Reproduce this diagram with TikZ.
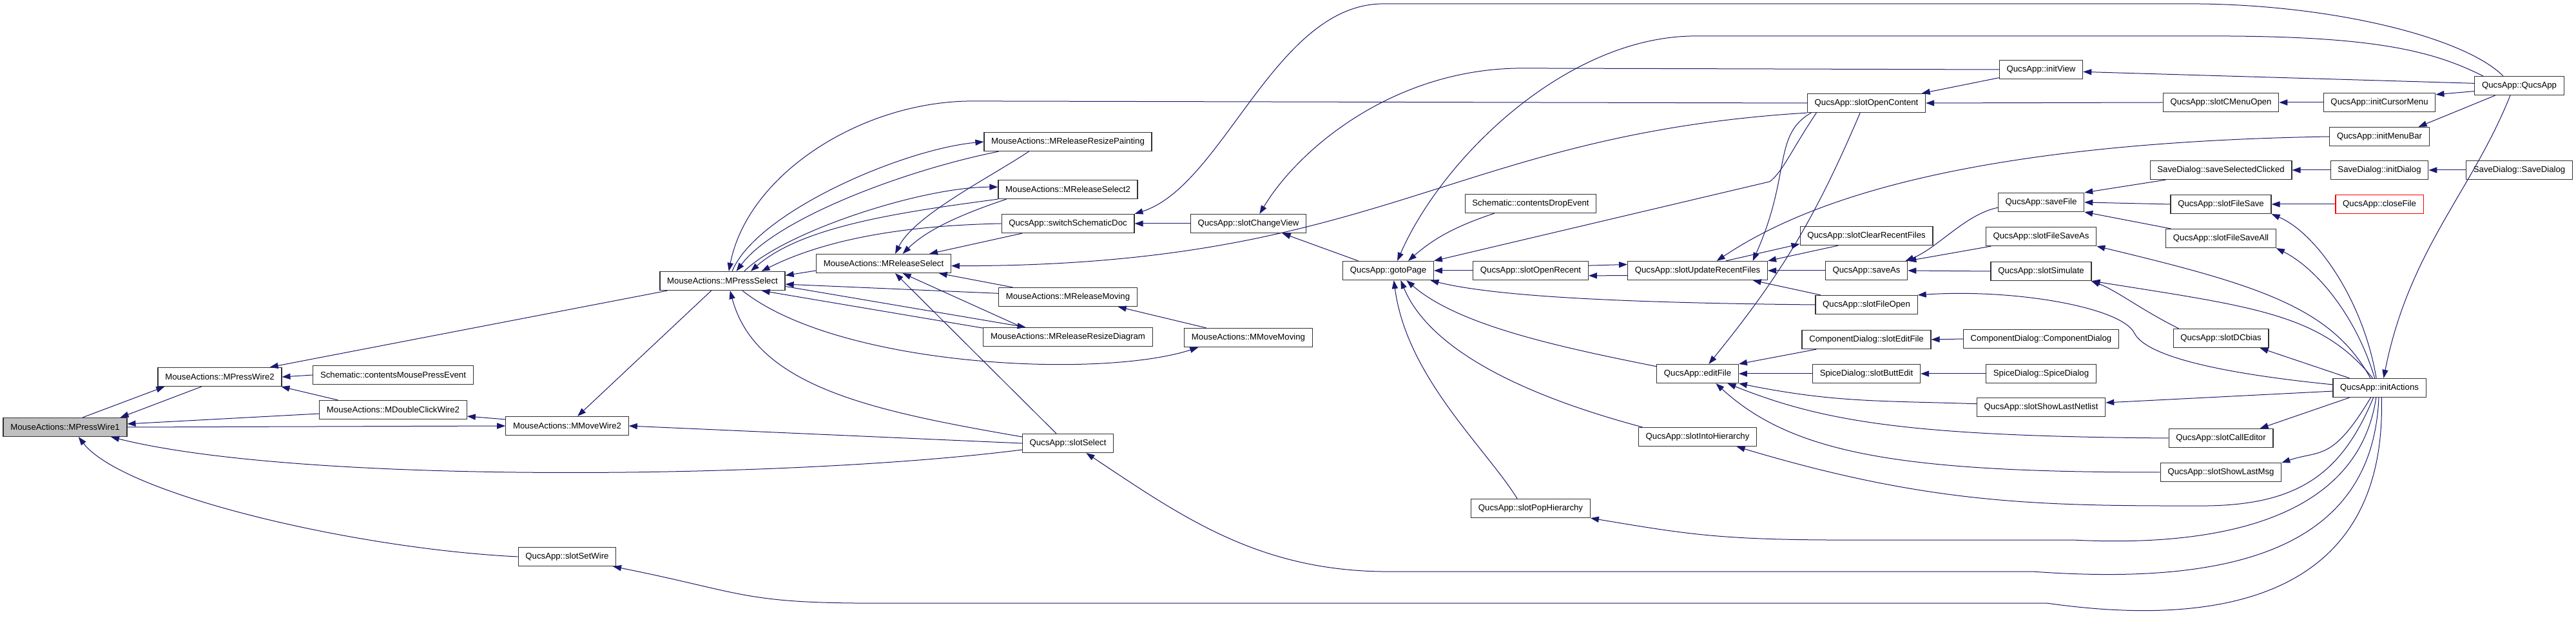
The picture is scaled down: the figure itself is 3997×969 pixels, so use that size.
\documentclass[tikz,border=0pt]{standalone}
\usepackage{fontspec}
\setmainfont{Liberation Sans}
\usetikzlibrary{arrows.meta}
\definecolor{cEdge}{RGB}{25,25,112}
\definecolor{cFrame}{RGB}{50,50,50}
\definecolor{cRoot}{RGB}{191,191,191}
\definecolor{cRed}{RGB}{255,0,0}
\tikzset{
	fbox/.style={draw=cFrame, line width=0.6pt, fill=white, inner xsep=5.6pt,
		inner ysep=0pt, minimum height=14.5pt,
		font=\fontsize{6.6pt}{8pt}\selectfont},
	fbase/.style={fbox, fill=cRoot},
	fred/.style={fbox, draw=cRed},
	carr/.style={{Triangle[length=6.5pt,width=4.6pt]}-, line width=0.5pt,
		draw=cEdge},
}
\begin{document}
\begin{tikzpicture}[x=0.5pt,y=0.5pt]
	\path[use as bounding box,fill=white] (0,0) rectangle (3997,969);
	\node[fbase] (pw1) at (101,306) {MouseActions::MPressWire1};
	\node[fbox] (pw2) at (341,384) {MouseActions::MPressWire2};
	\node[fbox] (cmpe) at (610,387) {Schematic::contentsMousePressEvent};
	\node[fbox] (dcw2) at (610,333) {MouseActions::MDoubleClickWire2};
	\node[fbox] (mw2) at (880,308) {MouseActions::MMoveWire2};
	\node[fbox] (ssw) at (880,105) {QucsApp::slotSetWire};
	\node[fbox] (psel) at (1121,533) {MouseActions::MPressSelect};
	\node[fbox] (rsel) at (1371,560) {MouseActions::MReleaseSelect};
	\node[fbox] (rrp) at (1657,749) {MouseActions::MReleaseResizePainting};
	\node[fbox] (rsel2) at (1657,675) {MouseActions::MReleaseSelect2};
	\node[fbox] (ssd) at (1657,622) {QucsApp::switchSchematicDoc};
	\node[fbox] (rmov) at (1657,508) {MouseActions::MReleaseMoving};
	\node[fbox] (rrd) at (1657,446) {MouseActions::MReleaseResizeDiagram};
	\node[fbox] (ssel) at (1657,281) {QucsApp::slotSelect};
	\node[fbox] (scv) at (1937,622) {QucsApp::slotChangeView};
	\node[fbox] (mmov) at (1937,445) {MouseActions::MMoveMoving};
	\node[fbox] (gtp) at (2154,549) {QucsApp::gotoPage};
	\node[fbox] (cde) at (2375,653) {Schematic::contentsDropEvent};
	\node[fbox] (sor) at (2375,549) {QucsApp::slotOpenRecent};
	\node[fbox] (sph) at (2375,180) {QucsApp::slotPopHierarchy};
	\node[fbox] (surf) at (2634,549) {QucsApp::slotUpdateRecentFiles};
	\node[fbox] (edf) at (2634,389) {QucsApp::editFile};
	\node[fbox] (sih) at (2634,291) {QucsApp::slotIntoHierarchy};
	\node[fbox] (soc) at (2896,809) {QucsApp::slotOpenContent};
	\node[fbox] (scrf) at (2896,603) {QucsApp::slotClearRecentFiles};
	\node[fbox] (sva) at (2896,549) {QucsApp::saveAs};
	\node[fbox] (sfo) at (2896,496) {QucsApp::slotFileOpen};
	\node[fbox] (cdsef) at (2896,442) {ComponentDialog::slotEditFile};
	\node[fbox] (sdsbe) at (2896,389) {SpiceDialog::slotButtEdit};
	\node[fbox] (iv) at (3167,861) {QucsApp::initView};
	\node[fbox] (svf) at (3167,655) {QucsApp::saveFile};
	\node[fbox] (sfsa) at (3167,602) {QucsApp::slotFileSaveAs};
	\node[fbox] (ssim) at (3167,548) {QucsApp::slotSimulate};
	\node[fbox] (cdcd) at (3167,443) {ComponentDialog::ComponentDialog};
	\node[fbox] (sdsd) at (3167,389) {SpiceDialog::SpiceDialog};
	\node[fbox] (ssln) at (3167,337) {QucsApp::slotShowLastNetlist};
	\node[fbox] (scmo) at (3446,810) {QucsApp::slotCMenuOpen};
	\node[fbox] (sdssc) at (3446,705) {SaveDialog::saveSelectedClicked};
	\node[fbox] (sfs) at (3446,652) {QucsApp::slotFileSave};
	\node[fbox] (sfsall) at (3446,599) {QucsApp::slotFileSaveAll};
	\node[fbox] (sdcb) at (3446,444) {QucsApp::slotDCbias};
	\node[fbox] (sce) at (3446,289) {QucsApp::slotCallEditor};
	\node[fbox] (sslm) at (3446,236) {QucsApp::slotShowLastMsg};
	\node[fbox] (icm) at (3692,810) {QucsApp::initCursorMenu};
	\node[fbox] (imb) at (3692,757) {QucsApp::initMenuBar};
	\node[fbox] (sdid) at (3692,705) {SaveDialog::initDialog};
	\node[fred] (clf) at (3692,652) {QucsApp::closeFile};
	\node[fbox] (ia) at (3692,367) {QucsApp::initActions};
	\node[fbox] (qa) at (3909,836) {QucsApp::QucsApp};
	\node[fbox] (sdsd2) at (3909,705) {SaveDialog::SaveDialog};
	\draw[carr] (pw2.190) -- (pw1.29);
	\draw[carr] (pw1.10) -- (pw2.208);
	\draw[carr] (pw2.east) -- (cmpe.west);
	\draw[carr] (pw2.-9.5) -- (dcw2.170);
	\draw[carr] (pw1.3.5) -- (dcw2.183);
	\draw[carr] (mw2.west) -- (pw1.east);
	\draw[carr] (dcw2.-5.5) -- (mw2.174.6);
	\draw[carr] (pw2.11) -- (psel.190);
	\draw[carr] (pw1.-12) .. controls +(300,-75) and +(-350,-45) .. (ssel.188.7);
	\draw[carr] (pw1.-36) .. controls +(70,-90) and +(-250,12) .. (ssw.west);
	\draw[carr] (mw2.43) -- (psel.221);
	\draw[carr] (psel.57) .. controls +(30,152) and +(-170,0) .. ++(378,264) -- (soc.west);
	\draw[carr] (rrp.west) .. controls +(-127,-12) and +(37,91) .. (psel.45);
	\draw[carr] (psel.35) .. controls +(60,80) and +(-150,-30) .. (rrp.188);
	\draw[carr] (rsel2.178) .. controls +(-120,0) and +(60,60) .. (psel.24);
	\draw[carr] (psel.19) .. controls +(80,70) and +(-150,-20) .. (rsel2.south west);
	\draw[carr] (psel.14) .. controls +(100,50) and +(-150,-3) .. (ssd.west);
	\draw[carr] (rsel.40) .. controls +(30,60) and +(-60,-40) .. (rrp.194);
	\draw[carr] (rsel.27) .. controls +(40,40) and +(-60,-20) .. (rsel2.189);
	\draw[carr] (rsel.12) -- (ssd.192);
	\draw[carr] (psel.5) -- (rsel.186);
	\draw[carr] (rsel.-2) .. controls +(674,0) and +(-554,-34) .. (soc.south west);
	\draw[carr] (psel.-3) -- (rmov.177);
	\draw[carr] (rsel.-10) -- (rmov.170);
	\draw[carr] (rrd.167) -- (psel.-5);
	\draw[carr] (psel.-14) -- (rrd.174);
	\draw[carr] (rsel.-27) -- (rrd.168);
	\draw[carr] (rsel.-40) -- (ssel.140);
	\draw[carr] (psel.-52) .. controls +(40,-150) and +(-230,40) .. (ssel.172);
	\draw[carr] (mw2.east) -- (ssel.west);
	\draw[carr] (mmov.191) .. controls +(-150,-49) and +(150,-119) .. (psel.-26);
	\draw[carr] (rmov.-11) -- (mmov.167);
	\draw[carr] (ssd.east) -- (scv.west);
	\draw[carr] (ssd.north east) .. controls +(138,44) and +(-168,0) .. ++(386,326) -- ++(1250,0) .. controls +(220,0) and +(-60,60) .. (qa.149);
	\draw[carr] (scv.41) .. controls +(60,100) and +(-200,0) .. ++(408,226) -- (iv.west);
	\draw[carr] (scv.-16) -- (gtp.162);
	\draw[carr] (gtp.47) .. controls +(70,160) and +(-200,0) .. ++(463,349) -- ++(800,0) .. controls +(250,0) and +(-80,40) .. (qa.165);
	\draw[carr] (gtp.26) .. controls +(40,35) and +(-60,-20) .. (cde.195);
	\draw[carr] (gtp.north east) -- ++(521,123) .. controls +(20,15) and +(-40,-60) .. (soc.191);
	\draw[carr] (gtp.east) -- (sor.west);
	\draw[carr] (surf.175) -- (sor.5.7);
	\draw[carr] (sor.-5) -- (surf.184);
	\draw[carr] (gtp.-13) .. controls +(100,-25) and +(-300,3) .. (sfo.west);
	\draw[carr] (gtp.-60) .. controls +(20,-150) and +(-50,80) .. (sph.144);
	\draw[carr] (gtp.-38) .. controls +(50,-120) and +(-150,40) .. (sih.170);
	\draw[carr] (gtp.-28) .. controls +(80,-70) and +(-150,30) .. (edf.170);
	\draw[carr] (soc.10) -- (iv.191);
	\draw[carr] (soc.east) -- (scmo.west);
	\draw[carr] (iv.-3) -- (qa.177);
	\draw[carr] (surf.10) .. controls +(60,134) and +(-60,-34) .. (soc.190);
	\draw[carr] (surf.27) .. controls +(120,80) and +(-600,-10) .. (imb.west);
	\draw[carr] (scrf.187) -- (surf.19);
	\draw[carr] (surf.north east) -- (scrf.199);
	\draw[carr] (surf.east) -- (sva.west);
	\draw[carr] (surf.-10) -- (sfo.168.5);
	\draw[carr] (sva.14) .. controls +(50,20) and +(-50,-10) .. (svf.187);
	\draw[carr] (sva.north east) -- (sfsa.191);
	\draw[carr] (sva.east) -- (ssim.west);
	\draw[carr] (svf.north east) -- (sdssc.190);
	\draw[carr] (svf.east) -- (sfs.west);
	\draw[carr] (svf.south east) -- (sfsall.169);
	\draw[carr] (sfsa.south east) .. controls +(250,-60) and +(-60,110) .. (ia.133);
	\draw[carr] (ssim.south east) .. controls +(250,-40) and +(-80,100) .. (ia.125);
	\draw[carr] (ssim.-11) .. controls +(40,-15) and +(-60,30) .. (sdcb.167);
	\draw[carr] (sfo.north east) .. controls +(150,10) and +(-20,40) .. ++(336,-59) .. controls +(20,-40) and +(-150,15) .. (ia.176);
	\draw[carr] (edf.-18) .. controls +(150,-60) and +(-400,3) .. (sce.west);
	\draw[carr] (edf.-28) .. controls +(120,-110) and +(-400,0) .. (sslm.west);
	\draw[carr] (edf.41) to[bend right=8] (soc.-123);
	\draw[carr] (edf.north east) -- (cdsef.191.5);
	\draw[carr] (edf.east) -- (sdsbe.west);
	\draw[carr] (edf.south east) .. controls +(150,-30) and +(-150,5) .. (ssln.177);
	\draw[carr] (sih.-14) .. controls +(300,-90) and +(-250,0) .. ++(720,-92) .. controls +(150,0) and +(-50,-120) .. (ia.-122);
	\draw[carr] (sce.14) -- (ia.-162);
	\draw[carr] (sslm.9.4) .. controls +(60,20) and +(-60,-100) .. (ia.-132);
	\draw[carr] (sph.south east) .. controls +(150,-25) and +(-200,0) .. ++(400,-34) -- ++(350,0) .. controls +(200,-10) and +(-30,-200) .. (ia.-109);
	\draw[carr] (ssel.-28) .. controls +(150,-100) and +(-200,0) .. ++(469,-184) -- ++(1000,0) .. controls +(280,-20) and +(-10,-250) .. (ia.-94);
	\draw[carr] (ssw.-12) .. controls +(200,-40) and +(-200,0) .. ++(400,-57) -- ++(1825,0) .. controls +(280,-40) and +(8,-305) .. (ia.-78);
	\draw[carr] (ia.67) .. controls +(40,200) and +(-60,-150) .. (qa.227);
	\draw[carr] (sfs.south east) .. controls +(70,-30) and +(-20,120) .. (ia.108);
	\draw[carr] (sfsall.south east) .. controls +(60,-30) and +(-30,100) .. (ia.116);
	\draw[carr] (sdcb.-14) -- (ia.162);
	\draw[carr] (ssln.4) -- (ia.184);
	\draw[carr] (cdsef.east) -- (cdcd.west);
	\draw[carr] (sdsbe.east) -- (sdsd.west);
	\draw[carr] (scmo.east) -- (icm.west);
	\draw[carr] (icm.8) -- (qa.187);
	\draw[carr] (imb.14) -- (qa.-158);
	\draw[carr] (sdssc.east) -- (sdid.west);
	\draw[carr] (sdid.east) -- (sdsd2.west);
	\draw[carr] (sfs.east) -- (clf.west);
\end{tikzpicture}
\end{document}
